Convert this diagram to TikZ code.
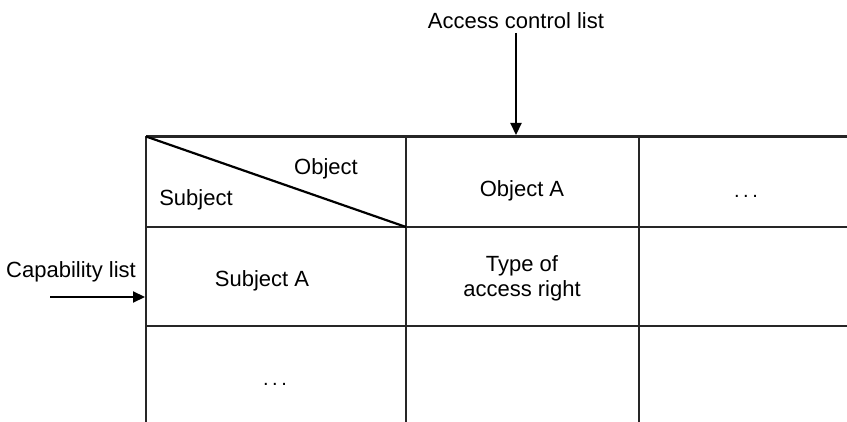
\documentclass[tikz,border=0pt]{standalone}
\usepackage{fontspec}
\setmainfont{Liberation Sans}
\usetikzlibrary{arrows.meta}
\begin{document}
\begin{tikzpicture}[x=1pt,y=-1pt,
  grid/.style={line width=2.5pt,draw=black!85},
  lbl/.style={font=\fontsize{22}{25}\selectfont,inner sep=0pt,align=center},
  dotlbl/.style={font=\fontsize{20}{24}\selectfont,inner sep=0pt},
  arr/.style={line width=2.2pt,-{Triangle[length=12pt,width=11pt]}}]
\useasboundingbox (0,0) rectangle (847,422);
% grid
\draw[grid] (146,136.5) -- (847,136.5);
\draw[grid] (146,227) -- (847,227);
\draw[grid] (146,326) -- (847,326);
\draw[grid] (146,136.5) -- (146,422);
\draw[grid] (406,136.5) -- (406,422);
\draw[grid] (639,136.5) -- (639,422);
\draw[line width=2.2pt] (146,136.5) -- (406,227);
% coordinates
\coordinate (acltip) at (516,135);
\coordinate (aclstart) at (516,33);
\coordinate (captip) at (145,297);
\coordinate (capstart) at (50,297);
% labels
\node[lbl] (acl) at (516,21) {Access control list};
\node[lbl] (cap) at (71,272) {Capability list};
\node[lbl] (subj) at (196,200) {Subject};
\node[lbl] (obj) at (326,169) {Object};
\node[lbl] (objA) at (522,191) {Object A};
\node[dotlbl] (dots1) at (746,196) {.\hspace{3.5pt}.\hspace{3.5pt}.};
\node[lbl] (subjA) at (262,281) {Subject A};
\node[lbl] (type) at (522,278) {Type of\\access right};
\node[dotlbl] (dots2) at (275,384) {.\hspace{3.5pt}.\hspace{3.5pt}.};
% arrows
\draw[arr] (aclstart) -- (acltip);
\draw[arr] (capstart) -- (captip);
\end{tikzpicture}
\end{document}
